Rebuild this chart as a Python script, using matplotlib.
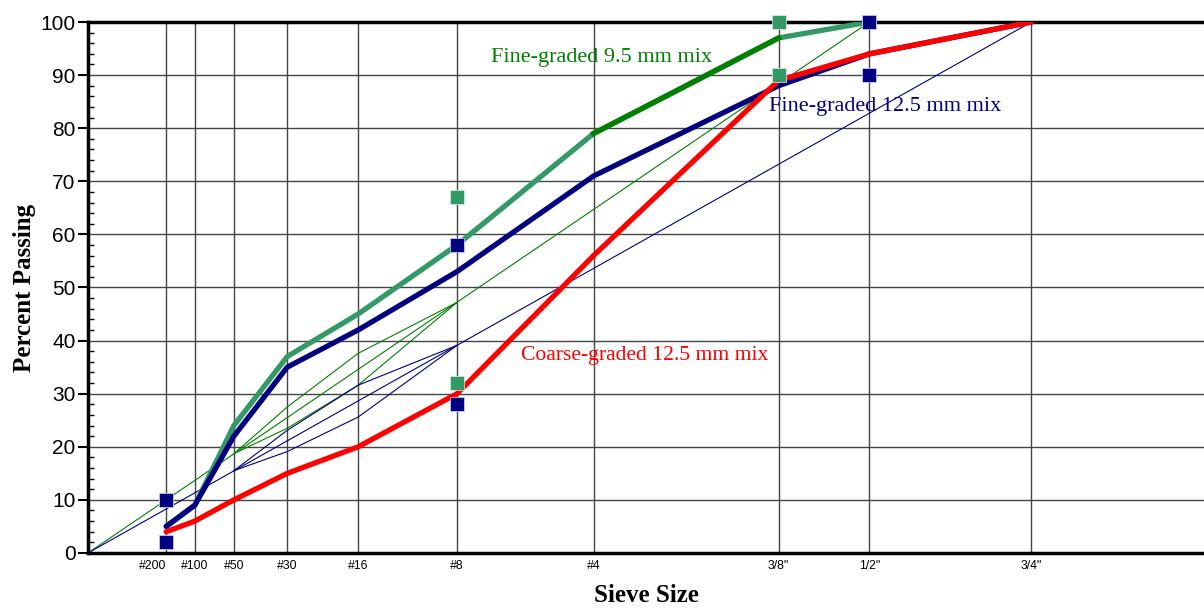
import matplotlib
matplotlib.use("Agg")
import matplotlib.pyplot as plt
import numpy as np

# sieve sizes (mm) and labels
sieves = [0.075, 0.15, 0.3, 0.6, 1.18, 2.36, 4.75, 9.5, 12.5, 19.0]
sieve_labels = ['#200', '#100', '#50', '#30', '#16', '#8', '#4', '3/8"', '1/2"', '3/4"']

# gradations (percent passing)
fine95_sieves = [0.075, 0.15, 0.3, 0.6, 1.18, 2.36, 4.75, 9.5, 12.5]
fine95 = [5, 9, 24, 37, 45, 58, 79, 97, 100]
fine125 = [5, 9, 22, 35, 42, 53, 71, 88, 94, 100]
coarse125 = [4, 6, 10, 15, 20, 30, 56, 89, 94, 100]

# control points
cp95_sieves = [0.075, 0.075, 2.36, 2.36, 9.5, 9.5, 12.5]
cp95 = [2, 10, 32, 67, 90, 100, 100]
cp125_sieves = [0.075, 0.075, 2.36, 2.36, 12.5, 12.5]
cp125 = [2, 10, 28, 58, 90, 100]

# restricted zones
rz_sieves = [0.3, 0.6, 1.18, 2.36]
rz95_low = [18.7, 23.5, 31.6, 47.2]
rz95_up = [18.7, 27.5, 37.6, 47.2]
rz125_low = [15.5, 19.1, 25.6, 39.1]
rz125_up = [15.5, 23.1, 31.6, 39.1]

# maximum density lines
mdl95_x = [0, 12.5]
mdl125_x = [0, 19.0]
mdl_y = [0, 100]

seagreen = '#339966'
green = '#008000'
navy = '#000080'
red = '#FF0000'


def fwd(x):
    x = np.asarray(x, dtype=float)
    return np.sign(x) * np.abs(x) ** 0.45


def inv(x):
    x = np.asarray(x, dtype=float)
    return np.sign(x) * np.abs(x) ** (1 / 0.45)


fig = plt.figure(figsize=(12.04, 6.08), dpi=100)
ax = fig.add_axes([0.0731, 0.0905, 0.9269, 0.8733])
ax.set_xscale('function', functions=(fwd, inv))
ax.set_xlim(0, 27.6)
ax.set_ylim(0, 100)

# grid
for s in sieves:
    ax.axvline(s, color='#444444', lw=1, zorder=1)
for v in range(10, 100, 10):
    ax.axhline(v, color='#444444', lw=1, zorder=1)

# thin lines
ax.plot(mdl95_x, mdl_y, color=green, lw=0.8, zorder=2)
ax.plot(rz_sieves, rz95_low, color=green, lw=0.8, zorder=2)
ax.plot(rz_sieves, rz95_up, color=green, lw=0.8, zorder=2)
ax.plot(mdl125_x, mdl_y, color=navy, lw=0.8, zorder=2)
ax.plot(rz_sieves, rz125_low, color=navy, lw=0.8, zorder=2)
ax.plot(rz_sieves, rz125_up, color=navy, lw=0.8, zorder=2)

# gradation curves
ax.plot(fine95_sieves, fine95, color=seagreen, lw=3.8, zorder=3,
        solid_capstyle='round')
ax.plot(fine95_sieves[6:8], fine95[6:8], color=green, lw=3.8, zorder=3)
ax.plot(sieves, fine125, color=navy, lw=3.8, zorder=4, solid_capstyle='round')
ax.plot(sieves, coarse125, color=red, lw=3.8, zorder=5, solid_capstyle='round')

# control points
ax.plot(cp95_sieves, cp95, 's', color=seagreen, ms=10.5, mec='#e0eee6', mew=0.5,
        zorder=6, clip_on=False)
ax.plot(cp125_sieves, cp125, 's', color=navy, ms=10.5, mec='#d8d8ee', mew=0.5,
        zorder=7, clip_on=False)

# annotations
ax.text(2.87, 93.4, 'Fine-graded 9.5 mm mix', color=green, fontsize=16,
        family='Liberation Serif', va='center', ha='left', zorder=8)
ax.text(9.21, 84.0, 'Fine-graded 12.5 mm mix', color=navy, fontsize=16,
        family='Liberation Serif', va='center', ha='left', zorder=8)
ax.text(3.37, 37.1, 'Coarse-graded 12.5 mm mix', color=red, fontsize=15.6,
        family='Liberation Serif', va='center', ha='left', zorder=8)

# axes styling
ax.set_xticks(sieves)
ax.set_xticklabels(sieve_labels, family='Liberation Sans', fontsize=8.8)
ax.get_xticklabels()[0].set_ha('right')
ax.tick_params(axis='x', length=0, pad=5)
ax.set_yticks(range(0, 101, 10))
ax.set_yticks(range(0, 101, 2), minor=True)
ax.tick_params(axis='y', which='major', direction='out', length=7, width=1.5,
               labelsize=15, pad=2)
ax.tick_params(axis='y', which='minor', direction='in', length=4, width=1)
for lab in ax.get_yticklabels():
    lab.set_family('Liberation Sans')

for sp in ['left', 'bottom', 'top']:
    ax.spines[sp].set_linewidth(2.5)
ax.spines['right'].set_visible(False)

ax.set_xlabel('Sieve Size', family='Liberation Serif', fontweight='bold',
              fontsize=18, labelpad=9)
ax.set_ylabel('Percent Passing', family='Liberation Serif', fontweight='bold',
              fontsize=18, labelpad=3)

fig.savefig('out.png', dpi=100)
